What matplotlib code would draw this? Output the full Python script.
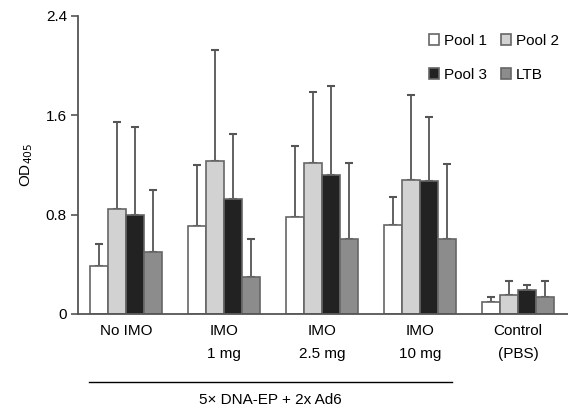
import numpy as np
import matplotlib.pyplot as plt

plt.rcParams['font.family'] = ['Liberation Sans', 'DejaVu Sans']

# Data
groups = ['No IMO\n ', 'IMO\n1 mg', 'IMO\n2.5 mg', 'IMO\n10 mg', 'Control\n(PBS)']
series = ['Pool 1', 'Pool 2', 'Pool 3', 'LTB']
pool1 = [0.39, 0.71, 0.78, 0.72, 0.10]
pool2 = [0.845, 1.23, 1.22, 1.08, 0.15]
pool3 = [0.80, 0.93, 1.12, 1.07, 0.19]
ltb = [0.50, 0.30, 0.60, 0.60, 0.135]
pool1_top = [0.56, 1.20, 1.35, 0.94, 0.14]
pool2_top = [1.55, 2.13, 1.79, 1.76, 0.265]
pool3_top = [1.51, 1.45, 1.84, 1.59, 0.23]
ltb_top = [1.00, 0.60, 1.22, 1.21, 0.265]
yticks = [0, 0.8, 1.6, 2.4]

colors = ['white', '#d2d2d2', '#222222', '#8c8c8c']
edge = '#666666'

fig = plt.figure(figsize=(5.68, 4.08), dpi=100)
ax = fig.add_axes([0.1373, 0.2304, 0.8627, 0.7304])

x = np.arange(len(groups))
w = 0.184
vals = [pool1, pool2, pool3, ltb]
tops = [pool1_top, pool2_top, pool3_top, ltb_top]
handles = []
for i, (v, t) in enumerate(zip(vals, tops)):
    xs = x + (i - 1.5) * w
    v = np.array(v)
    err = np.array(t) - v
    b = ax.bar(xs, v, w, color=colors[i], edgecolor=edge, linewidth=1.2,
               label=series[i], zorder=2)
    handles.append(b)
    ax.errorbar(xs, v, yerr=[np.zeros_like(err), err], fmt='none',
                ecolor='#555555', elinewidth=1.3, capsize=3, capthick=1.5, zorder=1)

ax.set_xlim(-0.49, 4.51)
ax.set_ylim(0, 2.4)
ax.set_yticks(yticks)
ax.set_yticklabels(['0', '0.8', '1.6', '2.4'])
ax.set_xticks(x)
ax.set_xticklabels(groups)
for lab in ax.get_xticklabels():
    lab.set_linespacing(1.8)
ax.tick_params(axis='x', length=0, pad=7, labelsize=11)
ax.tick_params(axis='y', length=5, width=1.2, color='#555555', labelsize=11, pad=3)

for s in ['top', 'right']:
    ax.spines[s].set_visible(False)
for s in ['left', 'bottom']:
    ax.spines[s].set_color('#555555')
    ax.spines[s].set_linewidth(1.3)

ax.set_ylabel('OD$_{405}$', fontsize=11, labelpad=8)

# Bracket under the DNA-EP groups
trans = ax.get_xaxis_transform()
ax.plot([-0.378, 3.33], [-0.228, -0.228], color='black', lw=1, transform=trans, clip_on=False)
ax.text((-0.378 + 3.33) / 2, -0.29, '5\u00d7 DNA-EP + 2x Ad6', transform=trans,
        ha='center', va='center', fontsize=11)

# legend fills row-wise: Pool 1, Pool 2 / Pool 3, LTB
order = [0, 2, 1, 3]
ax.legend([handles[k] for k in order], [series[k] for k in order],
          ncol=2, loc='upper right', bbox_to_anchor=(1.0, 0.97), frameon=False,
          fontsize=11, handlelength=0.7, handleheight=0.7, handletextpad=0.3,
          columnspacing=0.9, labelspacing=1.3, borderaxespad=0.2)

fig.savefig('out.png', dpi=100)
